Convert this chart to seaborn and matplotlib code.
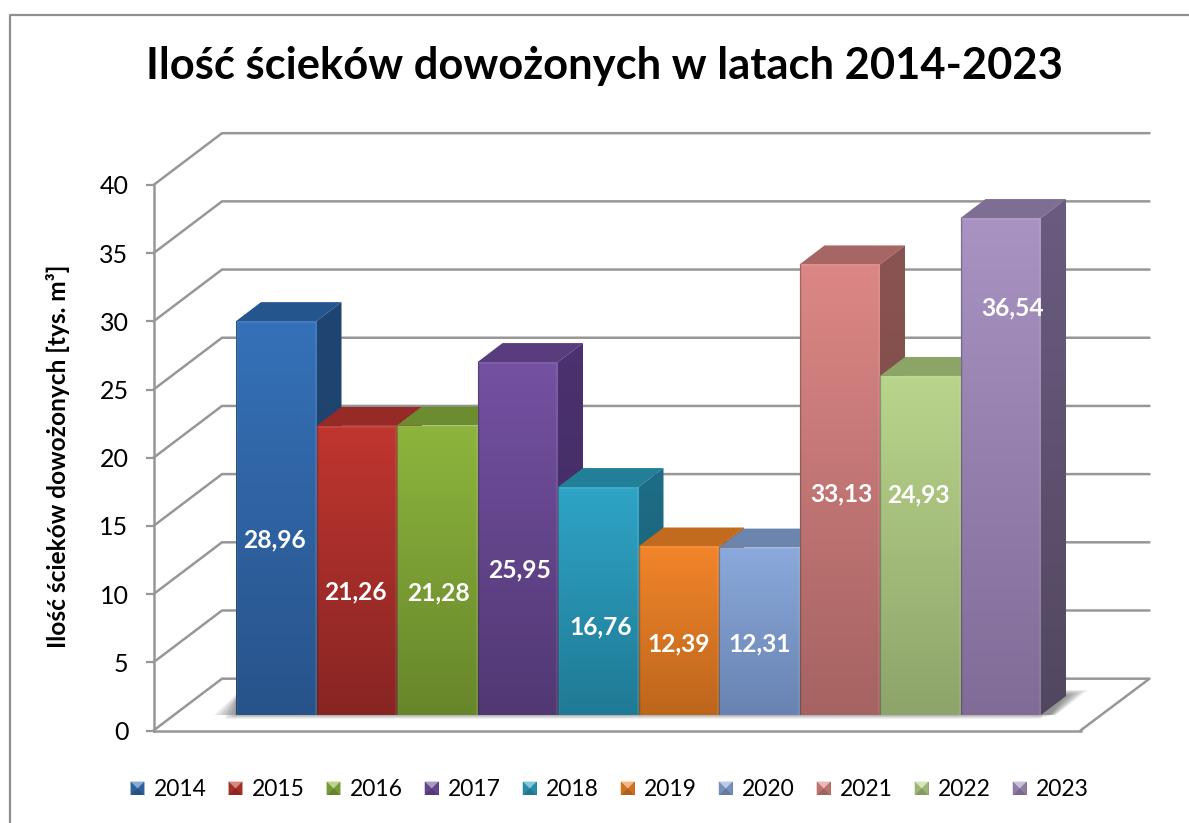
import matplotlib
matplotlib.use("Agg")
import matplotlib.pyplot as plt
import numpy as np
import pandas as pd
import seaborn as sns
from matplotlib.colors import to_rgb
from matplotlib.legend_handler import HandlerPatch
from matplotlib.patches import Patch, Polygon, Rectangle
from matplotlib.transforms import Affine2D

years = ["2014", "2015", "2016", "2017", "2018", "2019", "2020", "2021", "2022", "2023"]
values = [28.96, 21.26, 21.28, 25.95, 16.76, 12.39, 12.31, 33.13, 24.93, 36.54]
value_labels = ["28,96", "21,26", "21,28", "25,95", "16,76", "12,39", "12,31", "33,13", "24,93", "36,54"]
y_ticks = [0, 5, 10, 15, 20, 25, 30, 35, 40]

title = "Ilość ścieków dowożonych w latach 2014-2023"
y_title = "Ilość ścieków dowożonych [tys. m³]"

# styling
top_colors = ["#3571B8", "#C0362F", "#8DB53D", "#7551A2", "#2FA4C6", "#F2852A", "#8BA9DC", "#DC8785", "#B9D58B", "#A893C2"]
bottom_colors = ["#28538A", "#872523", "#67862B", "#513873", "#1F7A95", "#BC661C", "#6883B2", "#A56362", "#8EA46A", "#806C97"]
side_top = ["#1F4673", "#7F2421", "#5C7A28", "#4B3270", "#1E6D86", "#A85A18", "#5C7397", "#8A5452", "#7F9560", "#6A5C80"]
side_bottom = ["#1C3E66", "#6E1F1D", "#526D24", "#3F2A5E", "#195C71", "#8E4D15", "#4E627F", "#744644", "#6B7F51", "#52475F"]
lid_colors = ["#25558D", "#952A26", "#6C8C30", "#583C7D", "#237E98", "#C26A1E", "#6B85AF", "#A66664", "#8CA567", "#7E6E93"]
label_heights = [12.85, 9.05, 8.95, 10.65, 6.45, 5.25, 5.25, 16.25, 16.15, 29.95]
label_shift = [-0.025, -0.02, 0.015, 0.02, 0.025, 0.0, 0.01, 0.02, -0.025, 0.145]

W, H = 1189, 823
GRID = "#979797"
sns.set_theme(style="white")
plt.rcParams["font.family"] = ["Lato", "DejaVu Sans"]

fig = plt.figure(figsize=(W / 100, H / 100), dpi=100, facecolor="white")
px = Affine2D().scale(1, -1).translate(0, H)


def place(x0, x1, ytop, ybot, **kw):
    return fig.add_axes([x0 / W, 1 - ybot / H, (x1 - x0) / W, (ybot - ytop) / H], **kw)


# chart border (cropped on the right and at the bottom)
fig.add_artist(plt.Line2D([9.5, 9.5, W + 5], [H + 5, 14.5, 14.5], transform=px, color="#8f8f8f", lw=1.6))

# ---- front plane / value axis and wall grid
front = place(153.5, 1080.5, 185, 730.5, facecolor="none")
front.set_xlim(0, 927)
front.set_ylim(0, 40)
front.set_yticks(y_ticks)
front.set_xticks([])
front.tick_params(axis="y", length=6, width=1.6, color=GRID, left=True, labelsize=18, labelcolor="black", pad=12)
for name in ("top", "right"):
    front.spines[name].set_visible(False)
for name in ("left", "bottom"):
    front.spines[name].set_color(GRID)
    front.spines[name].set_linewidth(1.8)
front.set_ylabel(y_title, fontsize=17.6, fontweight="bold", color="black", labelpad=0)
front.yaxis.set_label_coords((70 - 153.5) / 927, 0.502)
DX, DY = 68.5, 3.8
for v in y_ticks:
    if v == 0:
        front.plot([0, DX, 996, 927], [0, DY, DY, 0], color=GRID, lw=1.8, clip_on=False, zorder=1)
    else:
        front.plot([0, DX, 996], [v, v + DY, v + DY], color=GRID, lw=1.8, clip_on=False, zorder=1)

# ---- floor shadows (behind all axes)
for k in range(10):
    g = k / 9
    a = 0.05
    fig.add_artist(Polygon([(236 - 22 * (1 - g), 715), (236, 715), (236, 694 + 8 * g)], closed=True, transform=px, fc="black", ec="none", alpha=a, zorder=-1))
    fig.add_artist(Polygon([(1041, 715), (1041, 690), (1088 - 22 * g, 690 + 6 * g), (1056 - 6 * g, 715)], closed=True, transform=px, fc="black", ec="none", alpha=a, zorder=-1))
    fig.add_artist(Rectangle((225 + 10 * g, 715), 815, 3.5 * (1 - g) + 0.5, transform=px, fc="black", ec="none", alpha=0.03, zorder=-1))

# ---- bars
BAR = 80.5
ax = place(236, 236 + 11 * BAR, 715 - 40 * 13.6, 715, facecolor="none")
df = pd.DataFrame({"rok": years, "ilosc": values})
sns.barplot(data=df, x="rok", y="ilosc", hue="rok", hue_order=years, order=years, palette=top_colors,
            width=1, saturation=1, legend=False, ax=ax)
bars = [b for c in ax.containers for b in c]
ax.set_axis_off()


def grad_poly(points, c_top, c_bot, z):
    xs, ys = zip(*points)
    poly = Polygon(points, closed=True, transform=ax.transData, fc="none", ec="none", zorder=z)
    ax.add_patch(poly)
    t = np.linspace(0, 1, 256)[:, None, None]
    img = (1 - t) * np.array(to_rgb(c_top))[None, None, :] + t * np.array(to_rgb(c_bot))[None, None, :]
    im = ax.imshow(img, extent=(min(xs), max(xs), min(ys), max(ys)), origin="upper", aspect="auto", zorder=z, interpolation="bilinear")
    im.set_clip_path(poly)
    return im


dx = 25 / BAR
dy = 19 / 13.6
for i, b in enumerate(bars):
    x0, w, h = b.get_x(), b.get_width(), b.get_height()
    x1 = x0 + w
    z = 3 + i
    ax.add_patch(Polygon([(x0, h), (x1, h), (x1 + dx, h + dy), (x0 + dx, h + dy)], closed=True, fc=lid_colors[i], ec="none", zorder=z + 0.1))
    grad_poly([(x1, 0), (x1, h), (x1 + dx, h + dy), (x1 + dx, dy)], side_top[i], side_bottom[i], z + 0.2)
    b.set_zorder(z + 0.3)
    b.set_edgecolor("none")
    grad_poly([(x0, 0), (x0, h), (x1, h), (x1, 0)], top_colors[i], bottom_colors[i], z + 0.4)
    # bevel: light inner rim and darker seam
    ax.plot([x0 + 0.012, x0 + 0.012, x1 - 0.012, x1 - 0.012], [0, h - 0.05, h - 0.05, 0], color="white", alpha=0.08, lw=1.6, zorder=z + 0.5, solid_capstyle="butt")
    ax.plot([x0, x0], [0, h], color="black", alpha=0.28, lw=1.0, zorder=z + 0.5)
    ax.text(i + label_shift[i], label_heights[i], value_labels[i], ha="center", va="center", color="white",
            fontsize=17.7, fontweight="bold", zorder=30)
ax.set_xlim(-0.5, 10.5)
ax.set_ylim(0, 40)

# ---- title
fig.text(604 / W, 1 - 66.5 / H, title, ha="center", va="center", fontsize=31.3, fontweight="bold", color="black")


# ---- legend
class BevelHandler(HandlerPatch):
    def create_artists(self, legend, orig, xd, yd, width, height, fontsize, trans):
        c = np.array(to_rgb(orig.get_facecolor()))
        s = min(width, 10.0)
        x0, y0 = (width - s) / 2 - xd, (height - s) / 2 - yd
        square = Rectangle((x0, y0), s, s, fc=c * 0.72, ec="none", transform=trans)
        left = Polygon([(x0, y0), (x0, y0 + s), (x0 + s / 2, y0 + s / 2)], fc=c * 0.85, ec="none", transform=trans)
        right = Polygon([(x0 + s, y0), (x0 + s, y0 + s), (x0 + s / 2, y0 + s / 2)], fc=c * 0.85, ec="none", transform=trans)
        top = Polygon([(x0, y0 + s), (x0 + s, y0 + s), (x0 + s / 2, y0 + s / 2)], fc=np.minimum(c * 0.6 + 0.4, 1), ec="none", transform=trans)
        return [square, left, right, top]


handles = [Patch(facecolor=c, label=y) for c, y in zip(top_colors, years)]
fig.legend(handles=handles, ncol=10, loc="center", bbox_to_anchor=(609.5 / W, 1 - 790 / H), frameon=False,
           fontsize=16.5, handler_map={Patch: BevelHandler()}, handlelength=0.62, handleheight=0.75,
           handletextpad=0.39, columnspacing=0.96, borderpad=0, labelcolor="black")

fig.savefig("out.png", dpi=100)
